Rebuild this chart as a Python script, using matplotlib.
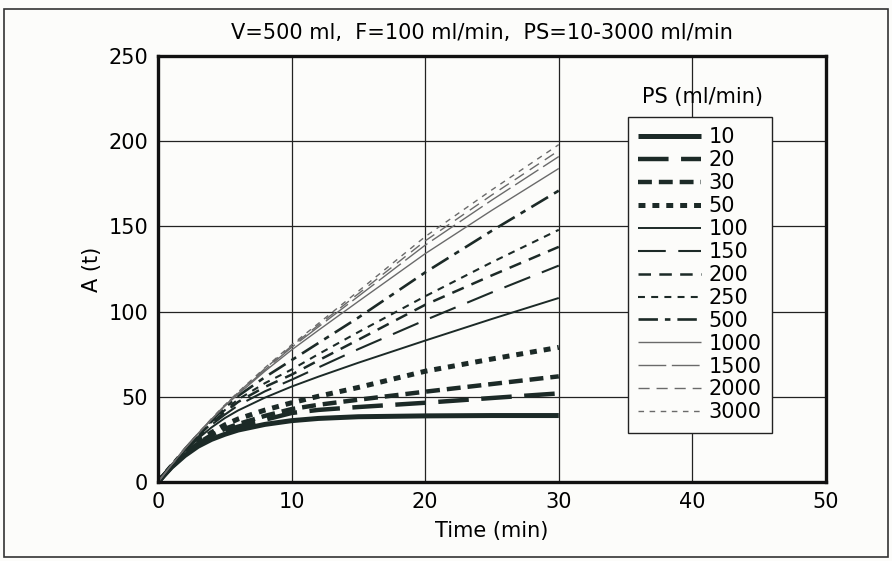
import matplotlib
matplotlib.use("Agg")
import matplotlib.pyplot as plt
from matplotlib.patches import Rectangle

plt.rcParams['font.family'] = ['DejaVu Sans']
plt.rcParams['lines.scale_dashes'] = False

# sample times (min)
time_min = [0, 1, 2, 3, 4, 5, 6, 8, 10, 12, 15, 20, 25, 30]

# A(t) for each permeability-surface product PS (ml/min)
ps_labels = ["10", "20", "30", "50", "100", "150", "200", "250",
             "500", "1000", "1500", "2000", "3000"]
a_ps10 = [0, 8.6, 15.5, 21, 25, 28, 30.5, 33.8, 36, 37.3, 38.3, 38.8, 39, 39]
a_ps20 = [0, 8.8, 16, 22, 26.5, 30, 32.5, 36.5, 40.5, 42.3, 44, 46.5, 49.3, 52]
a_ps30 = [0, 9, 16.5, 22.8, 27.5, 31.2, 34, 38.8, 42.8, 45.3, 48.3, 53, 57.5, 62]
a_ps50 = [0, 9.2, 17, 23.8, 29, 33.5, 37, 42.2, 46.5, 50.3, 55.5, 65, 72.2, 79]
a_ps100 = [0, 9.5, 18, 25.5, 32, 37.5, 42, 49.5, 56, 61.8, 70, 83, 95.7, 108]
a_ps150 = [0, 9.6, 18.5, 26.5, 33.5, 39.5, 45, 53.2, 60, 67.2, 78, 95, 111.3, 127]
a_ps200 = [0, 9.7, 18.8, 27, 34.5, 41, 47, 55.8, 63, 71.3, 83.5, 104, 121.3, 138]
a_ps250 = [0, 9.8, 19, 27.5, 35.2, 42.2, 48.5, 58, 66, 75, 88, 109, 129, 148]
a_ps500 = [0, 10, 19.3, 28, 36, 43.5, 50.5, 61.5, 71.5, 81.5, 96.5, 123, 147.5, 171]
a_ps1000 = [0, 10, 19.5, 28.3, 36.6, 44.5, 51.5, 65, 77.5, 89, 106, 134, 159.5, 184]
a_ps1500 = [0, 10, 19.5, 28.4, 36.8, 44.8, 52, 65.8, 79, 91, 109, 139, 165.5, 191]
a_ps2000 = [0, 10, 19.5, 28.5, 37, 45, 52.5, 66.5, 79.8, 92, 110.5, 141.5, 168.5, 194.5]
a_ps3000 = [0, 10, 19.6, 28.6, 37.1, 45.2, 52.8, 67, 80.5, 93, 112, 144, 171.5, 198]

series = [a_ps10, a_ps20, a_ps30, a_ps50, a_ps100, a_ps150, a_ps200,
          a_ps250, a_ps500, a_ps1000, a_ps1500, a_ps2000, a_ps3000]

dark = '#1c2a27'
grey = '#6a6a6a'
# (linewidth, dash pattern in points or None for solid, colour)
styles = [
    (3.6, None, dark),
    (3.2, (22, 9), dark),
    (3.2, (10, 5), dark),
    (3.6, (5, 5), dark),
    (1.4, None, dark),
    (1.5, (20, 9), dark),
    (1.8, (9, 6), dark),
    (1.5, (5, 4.5), dark),
    (1.9, (14, 5, 4, 5), dark),
    (1.0, None, grey),
    (1.0, (20, 4), grey),
    (1.0, (8, 5), grey),
    (1.0, (4, 4), grey),
]

FS = 15

fig = plt.figure(figsize=(8.92, 5.61), dpi=100)
fig.patch.set_facecolor('#fcfcfa')
ax = fig.add_axes([158 / 892, 1 - 482 / 561, (826 - 158) / 892, (482 - 56) / 561])
ax.set_facecolor('#fcfcfa')

for vals, lab, (lw, dash, col) in zip(series, ps_labels, styles):
    line, = ax.plot(time_min, vals, color=col, lw=lw, label=lab,
                    solid_capstyle='butt', dash_capstyle='butt')
    if dash is not None:
        line.set_dashes(dash)

ax.set_xlim(0, 50)
ax.set_ylim(0, 250)
ax.set_xticks(range(0, 51, 10))
ax.set_yticks(range(0, 251, 50))
ax.grid(True, color='#222222', lw=0.9)
ax.set_axisbelow(True)
ax.tick_params(length=0, labelsize=FS, pad=7)
for sp in ax.spines.values():
    sp.set_linewidth(2.4)
    sp.set_color('#111111')

ax.set_xlabel('Time (min)', fontsize=FS, labelpad=7)
ax.set_ylabel('A (t)', fontsize=FS, labelpad=5)
fig.text(482 / 892, 1 - 33 / 561, 'V=500 ml,  F=100 ml/min,  PS=10-3000 ml/min',
         ha='center', va='center', fontsize=FS)

leg = ax.legend(loc='upper left', bbox_to_anchor=(628 / 892, 1 - 117 / 561),
                bbox_transform=fig.transFigure, borderaxespad=0,
                fontsize=FS, handlelength=3.0, handletextpad=0.35,
                labelspacing=0.14, borderpad=0.5, fancybox=False,
                framealpha=1, edgecolor='#222222')
leg.get_frame().set_linewidth(1.0)
leg.get_frame().set_facecolor('#fcfcfa')
fig.text(702 / 892, 1 - 97 / 561, 'PS (ml/min)', ha='center', va='center',
         fontsize=FS)

fig.add_artist(Rectangle((4 / 892, 4 / 561), 884 / 892, 548 / 561,
                         transform=fig.transFigure, fill=False,
                         edgecolor='#333333', lw=1.2))

fig.savefig('out.png', dpi=100, facecolor=fig.get_facecolor())
